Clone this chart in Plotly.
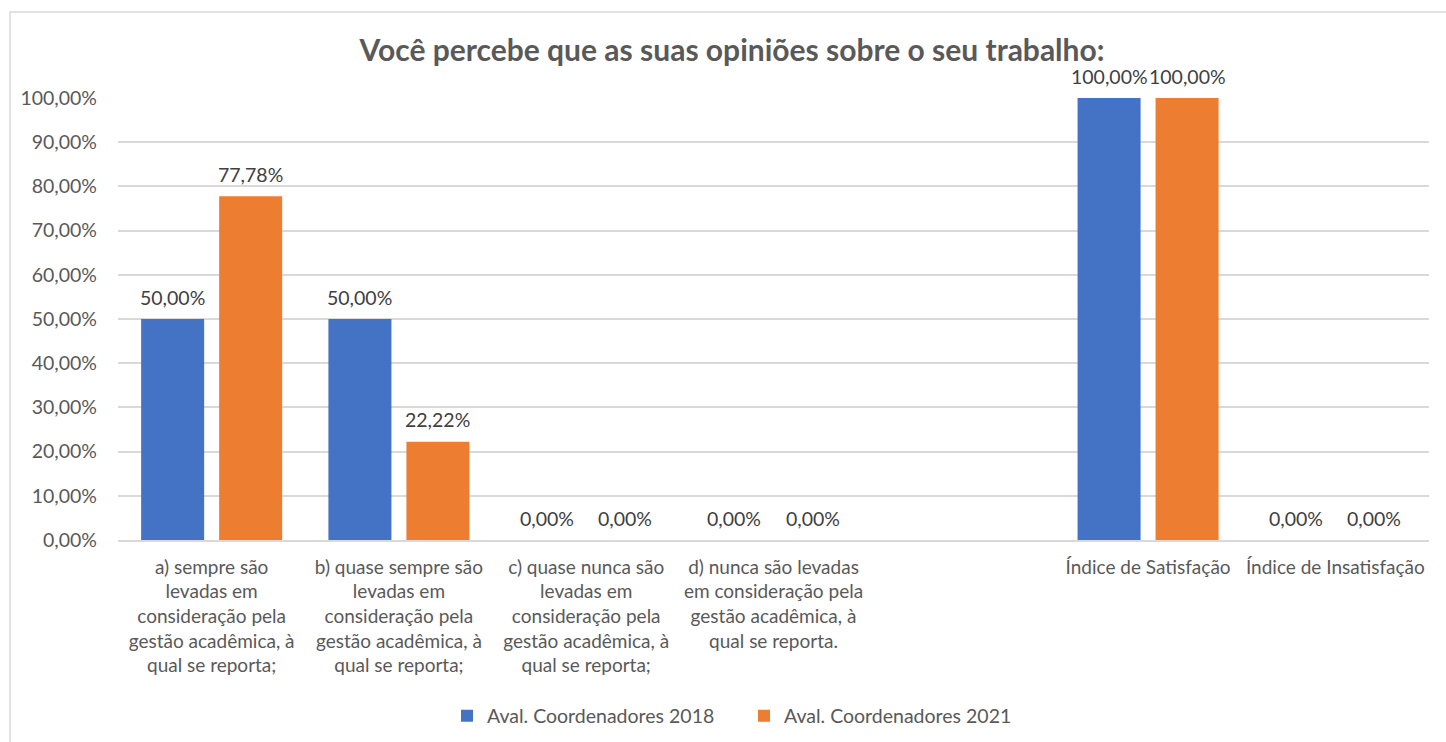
import plotly.graph_objects as go

# Survey answers (share of respondents) per option, for each evaluation round
categories = [
    "a) sempre são<br>levadas em<br>consideração pela<br>gestão acadêmica, à<br>qual se reporta;",
    "b) quase sempre são<br>levadas em<br>consideração pela<br>gestão acadêmica, à<br>qual se reporta;",
    "c) quase nunca são<br>levadas em<br>consideração pela<br>gestão acadêmica, à<br>qual se reporta;",
    "d) nunca são levadas<br>em consideração pela<br>gestão acadêmica, à<br>qual se reporta.",
    " ",
    "Índice de Satisfação",
    "Índice de Insatisfação",
]
aval_2018 = [0.50, 0.50, 0.0, 0.0, None, 1.0, 0.0]
aval_2021 = [0.7778, 0.2222, 0.0, 0.0, None, 1.0, 0.0]
series_names = ["Aval. Coordenadores 2018", "Aval. Coordenadores 2021"]
series_colors = ["#4472C4", "#ED7D31"]
y_ticks = [i / 10 for i in range(11)]

W, H = 1446, 742
ML, MR, MT, MB = 118, 17, 98, 202
PW, PH = W - ML - MR, H - MT - MB

FONT = "Lato"
TXT = "#595959"
FS = 19.5

# bar geometry inside each category slot
BARGAP, GROUPGAP = 0.167, 0.192
cat_px = PW / len(categories)
slot_px = cat_px * (1 - BARGAP) / 2

fig = go.Figure()
for name, vals, col in zip(series_names, [aval_2018, aval_2021], series_colors):
    fig.add_trace(go.Bar(
        x=categories, y=vals, name=name, marker_color=col,
        marker_line_width=0,
    ))

# value labels above each bar
annotations = []
for k, vals in enumerate([aval_2018, aval_2021]):
    offset = (k - 0.5) * slot_px
    for cat, v in zip(categories, vals):
        if v is None:
            continue
        annotations.append(dict(
            x=cat, y=v, xref="x", yref="y",
            text=f"{v * 100:.2f}%".replace(".", ","),
            showarrow=False, xshift=offset, yshift=22,
            xanchor="center", yanchor="middle",
            font=dict(family=FONT, size=FS, color="#404040"),
        ))

def px_x(p):
    return (p - ML) / PW

def px_y(p):
    return (H - MB - p) / PH

fig.update_layout(
    width=W, height=H,
    margin=dict(l=ML, r=MR, t=MT, b=MB, autoexpand=False),
    paper_bgcolor="white", plot_bgcolor="white",
    separators=",.",
    barmode="group", bargap=BARGAP, bargroupgap=GROUPGAP,
    font=dict(family=FONT, size=FS, color=TXT),
    title=dict(
        text="<b>Você percebe que as suas opiniões sobre o seu trabalho:</b>",
        x=732 / W, xref="container", xanchor="center",
        y=1 - 50 / H, yref="container", yanchor="middle",
        font=dict(family=FONT, size=30, color=TXT),
    ),
    xaxis=dict(
        type="category", showgrid=False, ticks="", showline=True,
        linecolor="#D9D9D9", linewidth=1.5, tickangle=0,
        tickfont=dict(family=FONT, size=19, color=TXT),
        ticklabelstandoff=9, automargin=False,
    ),
    yaxis=dict(
        range=[0, 1], tickvals=y_ticks, tickformat=".2%",
        showgrid=True, gridcolor="#D9D9D9", gridwidth=1.5,
        zeroline=False, showline=False, ticks="",
        tickfont=dict(family=FONT, size=FS, color=TXT),
        ticklabelstandoff=20, automargin=False,
    ),
    legend=dict(
        orientation="h", x=px_x(744), xanchor="center",
        y=px_y(716), yanchor="middle",
        font=dict(family=FONT, size=FS, color=TXT),
        itemwidth=30, tracegroupgap=0,
        entrywidth=252, entrywidthmode="pixels",
    ),
    annotations=annotations,
    shapes=[dict(
        type="rect", xref="paper", yref="paper",
        x0=px_x(10), x1=px_x(1460), y0=px_y(12), y1=px_y(760),
        line=dict(color="#D9D9D9", width=1.5), fillcolor="rgba(0,0,0,0)",
        layer="below",
    )],
)

fig.write_html("out.html")
